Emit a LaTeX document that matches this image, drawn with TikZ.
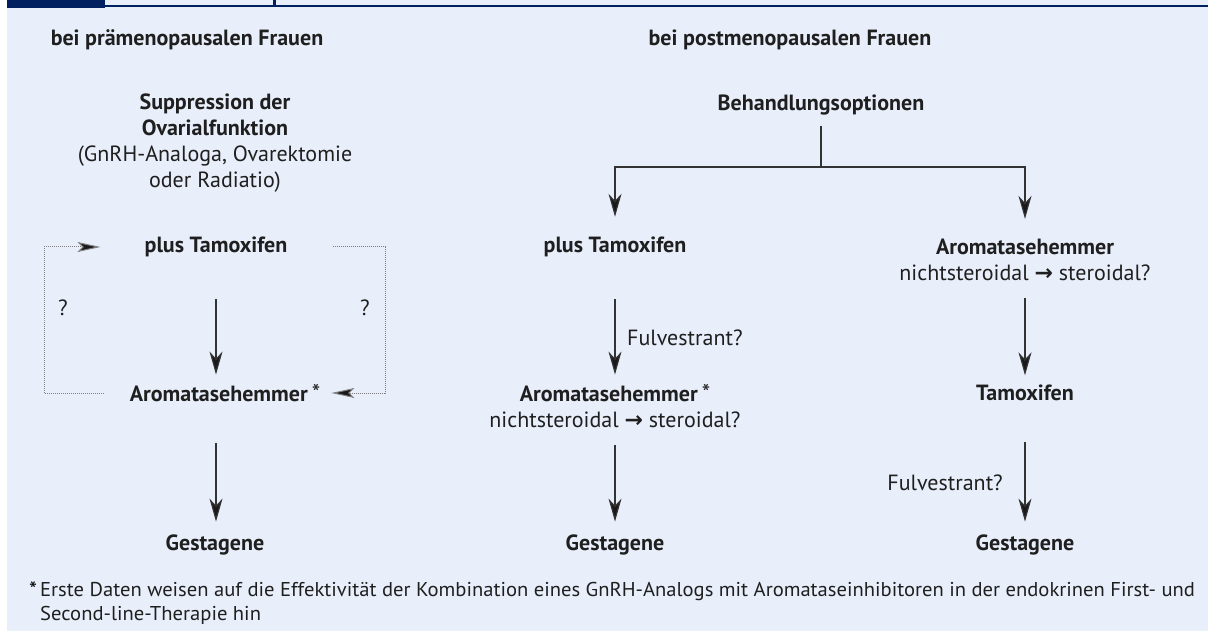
\documentclass[tikz,border=0pt]{standalone}
\usepackage{fontspec}
\setmainfont{PT Sans}
\newfontfamily\arrowfont{DejaVu Sans}
\newfontfamily\notefont[FakeStretch=1.03]{PT Sans}
\usetikzlibrary{arrows.meta}
\definecolor{bgblue}{HTML}{E8EEFA}
\definecolor{barblue}{HTML}{00205F}
\definecolor{linegray}{HTML}{333333}
\newcommand{\toward}{{\arrowfont\bfseries\char"2192}}
\newcommand{\fnstar}{{\mdseries\fontsize{24}{24}\selectfont\,*}}
\tikzset{
  head/.style={font=\fontsize{22}{26}\selectfont\bfseries, text=black!88, align=center, inner sep=0pt},
  plain/.style={font=\fontsize{22}{26}\selectfont, text=black!88, align=center, inner sep=0pt},
  flow/.style={draw=linegray, line width=1.2pt, -{Stealth[length=23pt,width=13pt,inset=7pt,fill=black!90]}},
  loop/.style={draw=gray, line width=1pt, dash pattern=on 1pt off 1pt, -{Stealth[length=23pt,width=10pt,inset=5pt,fill=black!90]}},
}
\begin{document}
\begin{tikzpicture}[x=1pt,y=-1pt]
  \useasboundingbox (0,0) rectangle (1208,631);
  \fill[bgblue] (7,0) rectangle (1208,631);
  \fill[barblue] (7,0) rectangle (105,8);
  \fill[barblue] (105,5) rectangle (1208,7.5);
  \fill[barblue] (272.5,0) rectangle (275.5,6);

  % premenopausal
  \node[head] (preT) at (187,40) {bei prämenopausalen Frauen};
  \node[plain] (supp) at (215,143) {{\bfseries Suppression der}\\{\bfseries Ovarialfunktion}\\(GnRH-Analoga, Ovarektomie\\oder Radiatio)};
  \node[head] (tamL) at (216,247) {plus Tamoxifen};
  \node[head] (aroL) at (225,393) {Aromatasehemmer\fnstar};
  \node[head] (gesL) at (215,545) {Gestagene};
  \coordinate (loopL) at (44,320);
  \coordinate (loopR) at (385,320);
  \node[plain] (qL) at (63,308) {?};
  \node[plain] (qR) at (365,308) {?};

  \draw[flow, shorten <=42pt, shorten >=9.5pt] (tamL.south) -- (tamL.south |- aroL.north);
  \draw[flow, shorten <=41pt, shorten >=13pt] (tamL.south |- aroL.south) -- (tamL.south |- gesL.north);
  \draw[loop, shorten <=26pt, shorten >=44pt] (aroL.west) -| (loopL) |- (tamL.west);
  \draw[loop, shorten <=45pt, shorten >=11pt] (tamL.east) -| (loopR) |- (aroL.east);

  % postmenopausal
  \node[head] (postT) at (790,40) {bei postmenopausalen Frauen};
  \node[head] (beh) at (821,105) {Behandlungsoptionen};
  \coordinate (split) at (821,167);
  \node[head] (tamM) at (615,247) {plus Tamoxifen};
  \node[plain] (aroM) at (615,406) {{\bfseries Aromatasehemmer}\fnstar\\nichtsteroidal \toward{} steroidal?};
  \node[head] (gesM) at (615,545) {Gestagene};
  \node[plain, anchor=west] (fulM) at (627,338) {Fulvestrant?};

  \node[plain] (aroR) at (1025,260) {{\bfseries Aromatasehemmer}\\nichtsteroidal \toward{} steroidal?};
  \node[head] (tamR) at (1025,393) {Tamoxifen};
  \node[head] (gesR) at (1025,545) {Gestagene};
  \node[plain, anchor=east] (fulR) at (1003,483) {Fulvestrant?};

  \draw[draw=linegray, line width=1.2pt, shorten <=10.5pt] (beh.south) -- (split);
  \draw[flow, shorten >=20pt] (split) -| (tamM.north);
  \draw[flow, shorten >=20pt] (split) -| (aroR.north);
  \draw[flow, shorten <=42pt, shorten >=9.5pt] (tamM.south) -- (tamM.south |- aroM.north);
  \draw[flow, shorten <=17.5pt, shorten >=13pt] (tamM.south |- aroM.south) -- (tamM.south |- gesM.north);
  \draw[flow, shorten <=16.5pt, shorten >=9.5pt] (aroR.south) -- (aroR.south |- tamR.north);
  \draw[flow, shorten <=41pt, shorten >=13pt] (tamR.south) -- (tamR.south |- gesR.north);

  % footnote
  \node[inner sep=0pt, font=\notefont\fontsize{22}{22}\selectfont] (star) at (33,590) {*};
  \node[anchor=west, align=left, inner sep=0pt, font=\notefont\fontsize{20}{24}\selectfont, text=black!88] (note) at (40,603) {Erste Daten weisen auf die Effektivität der Kombination eines GnRH-Analogs mit Aromataseinhibitoren in der endokrinen First- und\\Second-line-Therapie hin};
\end{tikzpicture}
\end{document}
